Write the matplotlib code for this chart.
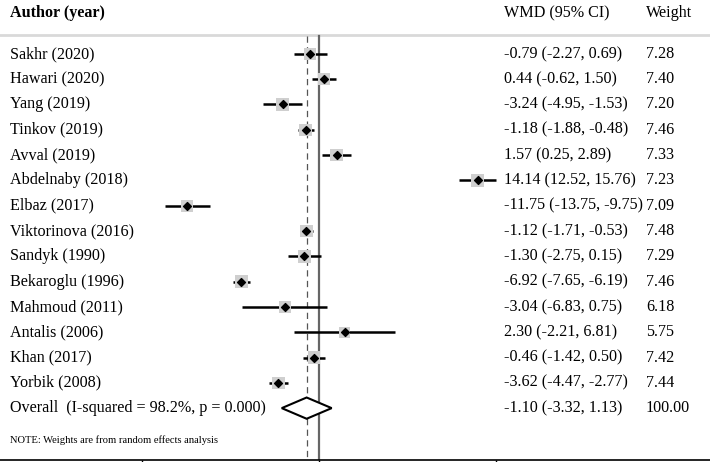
import numpy as np
import matplotlib.pyplot as plt
from matplotlib.patches import Polygon
import matplotlib.transforms as mtransforms

plt.rcParams['font.family'] = ['Liberation Serif', 'DejaVu Serif']

# study data
authors = ['Sakhr (2020)', 'Hawari (2020)', 'Yang (2019)', 'Tinkov (2019)', 'Avval (2019)',
           'Abdelnaby (2018)', 'Elbaz (2017)', 'Viktorinova (2016)', 'Sandyk (1990)',
           'Bekaroglu (1996)', 'Mahmoud (2011)', 'Antalis (2006)', 'Khan (2017)', 'Yorbik (2008)']
wmd = [-0.79, 0.44, -3.24, -1.18, 1.57, 14.14, -11.75, -1.12, -1.30, -6.92, -3.04, 2.30, -0.46, -3.62]
lower = [-2.27, -0.62, -4.95, -1.88, 0.25, 12.52, -13.75, -1.71, -2.75, -7.65, -6.83, -2.21, -1.42, -4.47]
upper = [0.69, 1.50, -1.53, -0.48, 2.89, 15.76, -9.75, -0.53, 0.15, -6.19, 0.75, 6.81, 0.50, -2.77]
weights = [7.28, 7.40, 7.20, 7.46, 7.33, 7.23, 7.09, 7.48, 7.29, 7.46, 6.18, 5.75, 7.42, 7.44]
ci_text = ['-0.79 (-2.27, 0.69)', '0.44 (-0.62, 1.50)', '-3.24 (-4.95, -1.53)', '-1.18 (-1.88, -0.48)',
           '1.57 (0.25, 2.89)', '14.14 (12.52, 15.76)', '-11.75 (-13.75, -9.75)', '-1.12 (-1.71, -0.53)',
           '-1.30 (-2.75, 0.15)', '-6.92 (-7.65, -6.19)', '-3.04 (-6.83, 0.75)', '2.30 (-2.21, 6.81)',
           '-0.46 (-1.42, 0.50)', '-3.62 (-4.47, -2.77)']
weight_text = ['7.28', '7.40', '7.20', '7.46', '7.33', '7.23', '7.09', '7.48', '7.29', '7.46', '6.18', '5.75', '7.42', '7.44']

overall_label = 'Overall  (I-squared = 98.2%, p = 0.000)'
overall = [-1.10, -3.32, 1.13]
overall_ci = '-1.10 (-3.32, 1.13)'
overall_weight = '100.00'
xticks = [-15.8, 0, 15.8]

fig = plt.figure(figsize=(7.1, 4.62), dpi=100)
ax = fig.add_axes([0, 2 / 462, 1, 460 / 462])
ax.set_xlim(-28.43, 34.85)
ax.set_ylim(16.05, -2.13)

n = len(authors)
ypos = np.arange(n)

# reference lines
ax.plot([0, 0], [-0.72, 16.05], color='#666666', lw=1.6, zorder=1)
ax.plot([overall[0], overall[0]], [-0.72, 16.05], color='#555555', lw=0.9, dashes=(5, 3.5), zorder=1)

# confidence intervals and point estimates
ax.hlines(ypos, lower, upper, color='black', lw=1.8, zorder=2)
ax.scatter(wmd, ypos, s=np.array(weights) * 11, marker='s', color='#cfcfcf', edgecolor='none', zorder=3)
ax.scatter(wmd, ypos, s=16, marker='D', color='black', zorder=4)

# overall diamond
yo = n
diamond = Polygon([[overall[1], yo], [overall[0], yo - 0.42], [overall[2], yo], [overall[0], yo + 0.42]],
                  closed=True, facecolor='white', edgecolor='black', lw=1.5, zorder=4)
ax.add_patch(diamond)

# header line
ax.axhline(-0.75, color='#d9d9d9', lw=2, zorder=0)

trans = mtransforms.blended_transform_factory(fig.transFigure, ax.transData)
fs = 11.6
x_lab, x_ci, x_w = 10 / 710, 504 / 710, 646 / 710
ax.text(x_lab, -1.62, 'Author (year)', transform=trans, fontsize=fs, fontweight='bold', va='center')
ax.text(x_ci, -1.62, 'WMD (95% CI)', transform=trans, fontsize=fs, va='center')
ax.text(x_w, -1.62, 'Weight', transform=trans, fontsize=fs, va='center')
for i in range(n):
    ax.text(x_lab, i, authors[i], transform=trans, fontsize=fs, va='center')
    ax.text(x_ci, i, ci_text[i], transform=trans, fontsize=fs, va='center')
    ax.text(x_w, i, weight_text[i], transform=trans, fontsize=fs, va='center')
ax.text(x_lab, yo, overall_label, transform=trans, fontsize=fs, va='center')
ax.text(x_ci, yo, overall_ci, transform=trans, fontsize=fs, va='center')
ax.text(x_w, yo, overall_weight, transform=trans, fontsize=fs, va='center')
ax.text(x_lab, 15.25, 'NOTE: Weights are from random effects analysis', transform=trans, fontsize=7.6, va='center')

for s in ['top', 'left', 'right']:
    ax.spines[s].set_visible(False)
ax.spines['bottom'].set_linewidth(1.2)
ax.set_yticks([])
ax.set_xticks(xticks)
ax.set_xticklabels([])
ax.tick_params(axis='x', direction='out', length=4, width=1)

fig.savefig('out.png', dpi=100)
